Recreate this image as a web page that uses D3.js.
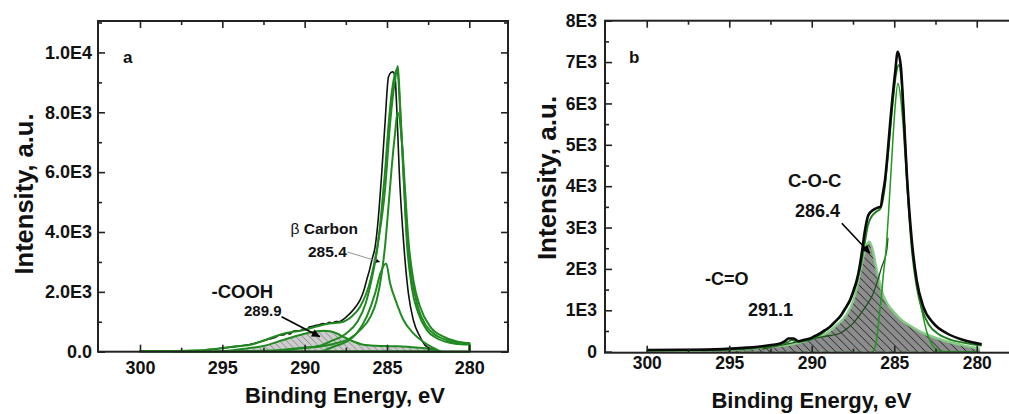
<!DOCTYPE html>
<html>
<head>
<meta charset="utf-8">
<script src="https://cdn.jsdelivr.net/npm/d3@7"></script>
<style>
  html, body { margin: 0; padding: 0; background: #fff; }
  svg { display: block; font-family: "Liberation Sans", Arial, sans-serif; font-weight: bold; }
</style>
</head>
<body>
<svg id="chart" width="1009" height="414"></svg>
<script>
// ---------- Panel a: C1s spectrum, [binding energy eV, intensity] ----------
const aMeasured = [
  [296,60],[294.5,150],[293.2,260],[292.7,330],[292.2,420],[291.8,470],[291.5,560],[291.3,560],
  [291.1,620],[290.9,590],[290.7,680],[290.5,700],[290.3,690],[290.1,760],[289.9,740],[289.7,830],
  [289.5,850],[289.3,880],[289.1,900],[288.9,940],[288.7,930],[288.5,980],[288.3,960],[288.1,1010],
  [287.9,1000],[287.7,1060],[287.5,1150],[287.24,1280],[286.9,1500],[286.63,1730],[286.4,2050],
  [286.23,2400],[286.05,2750],[285.92,3060],[285.72,3500],[285.52,4500],[285.32,5960],[285.12,7630],
  [284.91,9180],[284.75,9330],[284.65,9350],[284.51,9180],[284.41,8180],[284.25,5960],[284.0,3730],
  [283.7,1950],[283.4,1060],[282.99,500],[282.69,220],[282.38,110],[282.2,90]
];
const aEnvelope = [
  [300,20],[298,25],[296.5,50],[296,60],[295,120],[294.5,160],[293.3,230],[292.7,330],[291.3,600],
  [290.1,720],[289.3,840],[288.5,940],[287.65,1000],[287.2,1150],[286.63,1500],[286.0,2400],
  [285.52,3730],[285.12,5400],[284.81,7630],[284.51,9080],[284.34,9550],[284.2,8180],[284.0,5960],
  [283.8,3730],[283.5,2170],[283.09,1280],[282.58,720],[281.97,450],[281.17,300],[280.5,250],[280.0,240]
];
const aMainBeta = [
  [296,0],[292,40],[290.3,120],[289,210],[288.5,330],[287.5,600],[286.8,1000],[286.3,1600],
  [285.9,2500],[285.6,3400],[285.35,4600],[285.12,6000],[284.9,7600],[284.7,8700],[284.5,9300],
  [284.38,9450],[284.2,8100],[284.0,6000],[283.8,4000],[283.5,2500],[283.1,1450],[282.6,850],
  [282.0,540],[281.2,360],[280.5,300],[280,290]
];
const aMain = [
  [298,0],[292,20],[290.28,110],[288.26,260],[287.24,450],[286.63,720],[286.0,1170],[285.62,1730],
  [285.32,2620],[285.12,3510],[284.91,4840],[284.71,6180],[284.51,7300],[284.36,8000],[284.1,7070],
  [283.9,5400],[283.7,3730],[283.4,2400],[282.99,1500],[282.38,840],[281.57,500],[280.76,340],
  [280.3,300],[280,290]
];
const aBeta = [
  [289,0],[288.26,167],[287.45,334],[286.84,614],[286.23,1169],[285.72,1950],[285.4,2618],
  [285.05,2950],[284.81,2284],[284.41,1616],[284.0,1059],[283.4,614],[282.8,334],[282.38,190],
  [282.0,80],[281.7,0]
];
const aCOOH = [
  [295.5,0],[294.5,40],[293.5,110],[292.5,190],[291.3,390],[290.28,560],[289.67,640],[289.26,680],
  [288.8,700],[288.46,680],[288.0,600],[287.65,500],[287.04,340],[286.5,240],[286.0,210],[285.2,190],
  [284.4,180],[283.6,160],[283.0,130],[282.58,110],[282.1,60],[281.8,0]
];

// ---------- Panel b ----------
const bMeasured = [
  [300,40],[298,45],[296.4,50],[294.35,85],[293,130],[292.33,165],[291.9,200],[291.6,260],[291.42,320],
  [291.1,320],[290.8,250],[290.5,280],[290.1,320],[289.8,380],[289.5,440],[289.2,520],[288.89,600],
  [288.6,720],[288.28,850],[288.0,1030],[287.68,1250],[287.45,1500],[287.27,1730],[287.1,2050],
  [286.97,2380],[286.77,2940],[286.57,3300],[286.3,3420],[286.06,3470],[285.82,3510],[285.7,3800],
  [285.56,4150],[285.4,4800],[285.25,5520],[284.95,6730],[284.79,7250],[284.6,6890],[284.45,5920],
  [284.24,4310],[283.94,2700],[283.64,1730],[283.24,1090],[282.63,690],[281.82,445],[280.81,283],[279.7,180]
];
const bEnvelope = [
  [300,30],[296,40],[294,70],[292.3,140],[291.5,220],[291.2,280],[290.9,240],[290.5,260],[290,300],
  [289.5,410],[289,560],[288.5,750],[288,1000],[287.6,1300],[287.3,1650],[287.0,2150],[286.8,2600],
  [286.6,3050],[286.4,3250],[286.1,3380],[285.85,3450],[285.6,3900],[285.35,4900],[285.1,6000],
  [284.9,6700],[284.72,6930],[284.55,6500],[284.4,5500],[284.2,4000],[283.95,2550],[283.65,1600],
  [283.3,1000],[282.9,650],[282.3,420],[281.5,280],[280.5,200],[279.7,150]
];
const bMain = [
  [286.3,0],[286.1,200],[285.9,900],[285.8,1250],[285.65,1900],[285.5,2450],[285.3,3650],[285.1,5000],
  [284.95,5900],[284.78,6480],[284.6,6100],[284.45,5400],[284.24,4100],[283.94,2600],[283.64,1650],
  [283.33,1000],[283.03,480],[282.73,180],[282.42,40],[282.0,0],[280,0]
];
const bCOC = [
  [300,0],[298.4,10],[296,35],[294.35,58],[292.33,121],[290.91,203],[289.9,323],[289.09,445],
  [288.48,645],[287.98,846],[287.47,1249],[287.17,1732],[286.87,2296],[286.51,2658],[286.3,2450],
  [286.1,2050],[285.9,1700],[285.7,1400],[285.4,1150],[285.0,950],[284.6,780],[284.0,620],
  [283.4,480],[282.8,380],[282.0,270],[281.0,170],[280.2,100],[279.8,70]
];
const bCO = [
  [293,60],[292.3,121],[291.3,203],[290.3,280],[289.3,363],[288.28,445],[287.8,580],[287.48,690],
  [287.1,880],[286.87,1010],[286.6,1170],[286.36,1330],[286.06,1650],[285.76,2050],[285.45,2460],
  [285.38,2750]
];

// ---------- Axis ticks and labels ----------
const xMajor = [300, 295, 290, 285, 280];
const xMinor = [297.5, 292.5, 287.5, 282.5];
const aYMajor = [0, 2000, 4000, 6000, 8000, 10000];
const aYLabels = ["0.0", "2.0E3", "4.0E3", "6.0E3", "8.0E3", "1.0E4"];
const aYMinor = [1000, 3000, 5000, 7000, 9000, 11000];
const bYMajor = [0, 1000, 2000, 3000, 4000, 5000, 6000, 7000, 8000];
const bYLabels = ["0", "1E3", "2E3", "3E3", "4E3", "5E3", "6E3", "7E3", "8E3"];
const bYMinor = [500, 1500, 2500, 3500, 4500, 5500, 6500, 7500];

const svg = d3.select("#chart");
svg.append("rect").attr("width", 1009).attr("height", 414).attr("fill", "#fff");
const defs = svg.append("defs");

function hatch(id, size, color, width, bg) {
  const p = defs.append("pattern").attr("id", id)
    .attr("patternUnits", "userSpaceOnUse").attr("width", size).attr("height", size);
  p.append("rect").attr("width", size).attr("height", size).attr("fill", bg);
  p.append("path")
    .attr("d", `M0,0L${size},${size}M${-size/2},${size/2}L${size/2},${size*1.5}M${size/2},${-size/2}L${size*1.5},${size/2}`)
    .attr("stroke", color).attr("stroke-width", width);
}
hatch("hatchA", 6.8, "#7a7a7a", 0.8, "#cdcdcd");
hatch("hatchB", 8.2, "#1a1a1a", 0.9, "#8d8d8d");

function marker(id, w, h) {
  defs.append("marker").attr("id", id).attr("viewBox", "0 0 10 10")
    .attr("refX", 10).attr("refY", 5).attr("markerUnits", "userSpaceOnUse")
    .attr("markerWidth", w).attr("markerHeight", h).attr("orient", "auto")
    .append("path").attr("d", "M0,0L10,5L0,10z").attr("fill", "#000");
}
marker("arrowSmall", 6, 4);
marker("arrowBig", 11, 8);

function frame(g, x, y, o) {
  const [x0, x1] = x.range(), [y0, y1] = y.range();
  // minor / major ticks, all pointing inward
  const addAxis = (axis, tr) => {
    const s = g.append("g").attr("transform", tr).call(axis);
    s.select(".domain").remove();
    s.selectAll(".tick line").attr("stroke", "#222").attr("stroke-width", 1.6);
    return s;
  };
  const styleText = s => s.selectAll("text").attr("font-size", o.fs).attr("font-weight", "bold")
    .attr("font-family", "Liberation Sans, Arial, sans-serif").attr("fill", "#111");
  addAxis(d3.axisBottom(x).tickValues(xMinor).tickSizeInner(-4).tickSizeOuter(0).tickFormat(""), `translate(0,${y0})`);
  addAxis(d3.axisTop(x).tickValues(xMinor).tickSizeInner(-4).tickSizeOuter(0).tickFormat(""), `translate(0,${y1})`);
  addAxis(d3.axisTop(x).tickValues(xMajor).tickSizeInner(-7).tickSizeOuter(0).tickFormat(""), `translate(0,${y1})`);
  styleText(addAxis(d3.axisBottom(x).tickValues(xMajor).tickSizeInner(-7).tickSizeOuter(0)
    .tickPadding(o.xPad).tickFormat(d3.format("d")), `translate(0,${y0})`));

  addAxis(d3.axisLeft(y).tickValues(o.yMinor).tickSizeInner(-4).tickSizeOuter(0).tickFormat(""), `translate(${x0},0)`);
  styleText(addAxis(d3.axisLeft(y).tickValues(o.yMajor).tickSizeInner(-7).tickSizeOuter(0)
    .tickPadding(o.yPad).tickFormat((d, i) => o.yLabels[i]), `translate(${x0},0)`));
  addAxis(d3.axisRight(y).tickValues(o.yMinor).tickSizeInner(-4).tickSizeOuter(0).tickFormat(""), `translate(${x1},0)`);
  addAxis(d3.axisRight(y).tickValues(o.yMajor).tickSizeInner(-7).tickSizeOuter(0).tickFormat(""), `translate(${x1},0)`);

  g.append("rect").attr("x", x0).attr("y", y1).attr("width", x1 - x0).attr("height", y0 - y1)
    .attr("fill", "none").attr("stroke", "#222").attr("stroke-width", 2);
}

function label(g, txt, x, y, size, anchor) {
  return g.append("text").attr("x", x).attr("y", y).attr("font-size", size)
    .attr("text-anchor", anchor || "start").attr("fill", "#111").text(txt);
}

// ================= Panel a =================
{
  const x = d3.scaleLinear().domain([302.55, 277.65]).range([98, 508]);
  const y = d3.scaleLinear().domain([0, 11050]).range([351.7, 21]);
  const g = svg.append("g");
  const line = d3.line().x(d => x(d[0])).y(d => y(d[1])).curve(d3.curveMonotoneX);
  const closed = pts => line(pts) + `L${x(pts[pts.length-1][0])},${y(0)}L${x(pts[0][0])},${y(0)}Z`;

  g.append("path").attr("d", closed(aCOOH)).attr("fill", "url(#hatchA)").attr("stroke", "none");
  g.append("path").attr("d", line(aMeasured)).attr("fill", "none").attr("stroke", "#111").attr("stroke-width", 1.6);
  const green = "#1f8a1f";
  [aCOOH, aBeta, aMain, aMainBeta, aEnvelope].forEach(s => {
    g.append("path").attr("d", closed(s)).attr("fill", "none").attr("stroke", green)
      .attr("stroke-width", 2).attr("stroke-linejoin", "round");
  });

  frame(g, x, y, { xPad: 10, yPad: 6, fs: 18, yMajor: aYMajor, yMinor: aYMinor, yLabels: aYLabels });

  label(g, "a", 123, 63, 17);
  g.append("text").attr("transform", "translate(33,194) rotate(-90)").attr("text-anchor", "middle")
    .attr("font-size", 25.5).attr("fill", "#111").text("Intensity, a.u.");
  label(g, "Binding Energy, eV", 345, 403, 22, "middle");

  const beta = label(g, "", 290.5, 234, 15.5);
  beta.append("tspan").attr("font-weight", "normal").text("β");
  beta.append("tspan").text(" Carbon");
  label(g, "285.4", 308, 257, 15.5);
  g.append("line").attr("x1", x(287.4)).attr("y1", y(3330)).attr("x2", x(285.42)).attr("y2", y(3000))
    .attr("stroke", "#888").attr("stroke-width", 0.9).attr("marker-end", "url(#arrowSmall)");

  label(g, "-COOH", 211.5, 298, 18.5);
  label(g, "289.9", 244, 316, 15);
  g.append("line").attr("x1", x(291.4)).attr("y1", y(1170)).attr("x2", x(289.07)).attr("y2", y(500))
    .attr("stroke", "#000").attr("stroke-width", 1.6).attr("marker-end", "url(#arrowBig)");
}

// ================= Panel b =================
{
  const x = d3.scaleLinear().domain([302.53, 277.5]).range([605, 1018]);
  const y = d3.scaleLinear().domain([-25, 8000]).range([352.7, 20.7]);
  const g = svg.append("g");
  const line = d3.line().x(d => x(d[0])).y(d => y(d[1])).curve(d3.curveMonotoneX);
  const area = d3.area().x(d => x(d[0])).y0(y(0)).y1(d => y(d[1])).curve(d3.curveMonotoneX);

  g.append("line").attr("x1", x(300)).attr("x2", x(279.8)).attr("y1", y(0)).attr("y2", y(0))
    .attr("stroke", "#2a9a2a").attr("stroke-width", 2).attr("stroke-dasharray", "7,4");
  g.append("path").attr("d", area(bCOC)).attr("fill", "url(#hatchB)");
  g.append("path").attr("d", line(bCOC)).attr("fill", "none").attr("stroke", "#86cc86").attr("stroke-width", 2.4);
  g.append("path").attr("d", line(bCO)).attr("fill", "none").attr("stroke", "#1d4f1d").attr("stroke-width", 1.3);
  g.append("path").attr("d", line(bMain)).attr("fill", "none").attr("stroke", "#1e9a1e").attr("stroke-width", 1.5);
  g.append("path").attr("d", line(bEnvelope)).attr("fill", "none").attr("stroke", "#1f7f1f").attr("stroke-width", 2);
  g.append("path").attr("d", line(bMeasured)).attr("fill", "none").attr("stroke", "#0a0a0a").attr("stroke-width", 2.6)
    .attr("stroke-linejoin", "round");

  frame(g, x, y, { xPad: 4, yPad: 8, fs: 17.5, yMajor: bYMajor, yMinor: bYMinor, yLabels: bYLabels });

  label(g, "b", 629, 63, 17);
  g.append("text").attr("transform", "translate(556,178) rotate(-90)").attr("text-anchor", "middle")
    .attr("font-size", 26).attr("fill", "#111").text("Intensity, a.u.");
  label(g, "Binding Energy, eV", 811.5, 408, 22, "middle");

  label(g, "C-O-C", 788, 187, 18.5);
  label(g, "286.4", 795, 217, 18);
  g.append("line").attr("x1", x(288.18)).attr("y1", y(3103)).attr("x2", x(286.47)).attr("y2", y(2378))
    .attr("stroke", "#000").attr("stroke-width", 1.6).attr("marker-end", "url(#arrowBig)");
  label(g, "-C=O", 705, 284.5, 18);
  label(g, "291.1", 748, 316, 18);
}
</script>
</body>
</html>
